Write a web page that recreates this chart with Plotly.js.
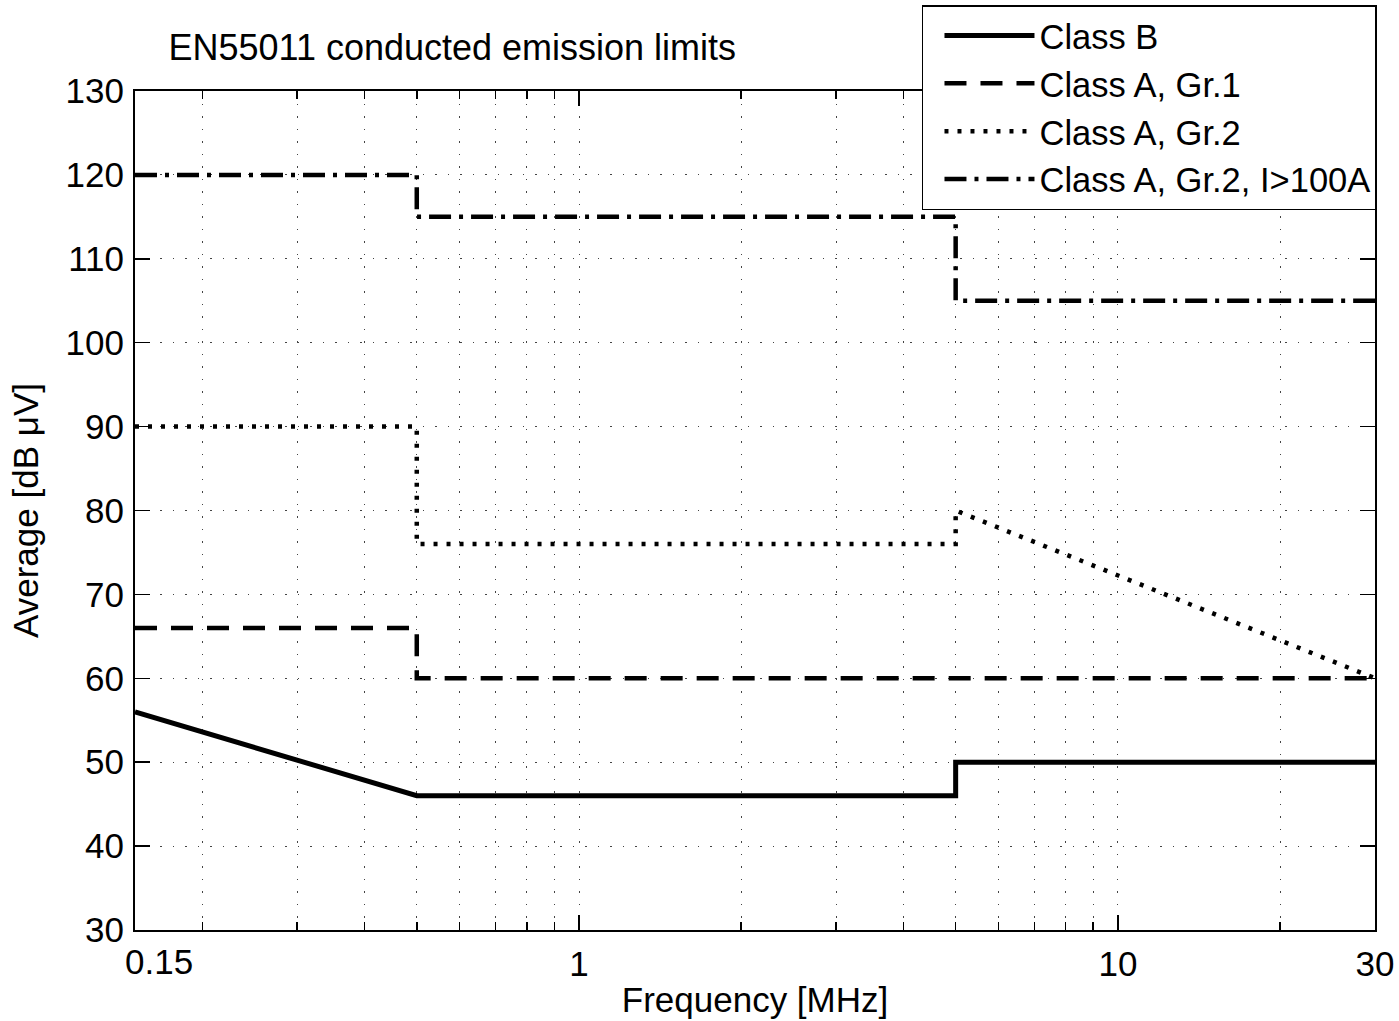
<!DOCTYPE html>
<html>
<head>
<meta charset="utf-8">
<script src="https://cdn.plot.ly/plotly-3.0.1.min.js"></script>
<style>html,body{margin:0;padding:0;background:#fff;}#chart{width:1399px;height:1021px;}</style>
</head>
<body>
<div id="chart"></div>
<script>
// Data (frequency in MHz, level in dBµV)
const freqClassB = [0.15, 0.5, 5, 5, 30];
const levelClassB = [56, 46, 46, 50, 50];
const freqClassA1 = [0.15, 0.5, 0.5, 30];
const levelClassA1 = [66, 66, 60, 60];
const freqClassA2 = [0.15, 0.5, 0.5, 5, 5, 30];
const levelClassA2 = [90, 90, 76, 76, 80, 60];
const freqClassA2High = [0.15, 0.5, 0.5, 5, 5, 30];
const levelClassA2High = [120, 120, 115, 115, 105, 105];
const seriesNames = ["Class B", "Class A, Gr.1", "Class A, Gr.2", "Class A, Gr.2, I>100A"];
const xTickVals = [0.15, 1, 10, 30];
const xTickText = ["", "1", "10", "30"];
const xFirstTickLabel = "0.15";
const xMinorVals = [0.2, 0.3, 0.4, 0.5, 0.6, 0.7, 0.8, 0.9, 2, 3, 4, 5, 6, 7, 8, 9, 20];

const FONT = "Liberation Sans, Arial, Helvetica, sans-serif";
const FS = 35;
const traces = [
  {x: freqClassB, y: levelClassB, name: seriesNames[0], mode: "lines",
   line: {color: "#000", width: 5, dash: "solid"}},
  {x: freqClassA1, y: levelClassA1, name: seriesNames[1], mode: "lines",
   line: {color: "#000", width: 4.5, dash: "22px,14px"}},
  {x: freqClassA2, y: levelClassA2, name: seriesNames[2], mode: "lines",
   line: {color: "#000", width: 4.5, dash: "4px,9px"}},
  {x: freqClassA2High, y: levelClassA2High, name: seriesNames[3], mode: "lines",
   line: {color: "#000", width: 4.5, dash: "22px,8px,4px,8px"}}
];

const grid = {gridcolor: "#444", gridwidth: 1, griddash: "1.5px,11px"};

const layout = {
  width: 1399, height: 1021,
  paper_bgcolor: "#fff", plot_bgcolor: "#fff",
  margin: {l: 135, r: 24, t: 91, b: 91, autoexpand: false},
  font: {family: FONT, size: FS, color: "#000"},
  showlegend: true,
  title: {text: "EN55011 conducted emission limits", font: {family: FONT, size: 36, color: "#000"},
          xref: "paper", x: 0.027, xanchor: "left", yref: "container", y: 1 - 47/1021, yanchor: "middle"},
  xaxis: {
    type: "log", range: [Math.log10(0.15), Math.log10(30)],
    tickmode: "array", tickvals: xTickVals, ticktext: xTickText,
    ticks: "inside", ticklen: 15, tickwidth: 1.5, tickcolor: "#000",
    showline: true, linecolor: "#000", linewidth: 2, mirror: "ticks",
    showgrid: true, ...grid, zeroline: false,
    minor: {tickmode: "array", tickvals: xMinorVals, ticks: "inside", ticklen: 8, tickwidth: 1.5, tickcolor: "#000",
            showgrid: true, ...grid},
    tickfont: {family: FONT, size: FS},
    ticklabelstandoff: 2,
    title: {text: "Frequency [MHz]", font: {family: FONT, size: FS}, standoff: 5},
    automargin: false, fixedrange: true
  },
  yaxis: {
    range: [30, 130], tickmode: "linear", tick0: 30, dtick: 10,
    ticks: "inside", ticklen: 15, tickwidth: 1.5, tickcolor: "#000",
    showline: true, linecolor: "#000", linewidth: 2, mirror: "ticks",
    showgrid: true, ...grid, zeroline: false,
    tickfont: {family: FONT, size: FS},
    ticklabelstandoff: 2,
    title: {text: "Average [dB μV]", font: {family: FONT, size: FS}, standoff: 16},
    automargin: false, fixedrange: true
  },
  annotations: [{
    text: xFirstTickLabel, xref: "x", x: Math.log10(xTickVals[0]), yref: "paper", y: 0,
    xanchor: "center", yanchor: "top", xshift: 24, yshift: -11, showarrow: false,
    font: {family: FONT, size: FS, color: "#000"}, borderpad: 0
  }],
  legend: {
    x: 1.0016, xanchor: "right", y: 1 + 86/839, yanchor: "top",
    bgcolor: "#fff", bordercolor: "#000", borderwidth: 1.5,
    font: {family: FONT, size: 34.5, color: "#000"},
    itemwidth: 90, indentation: 16, tracegroupgap: 0, traceorder: "normal"
  }
};

Plotly.newPlot("chart", traces, layout, {displayModeBar: false, staticPlot: true});
</script>
</body>
</html>
